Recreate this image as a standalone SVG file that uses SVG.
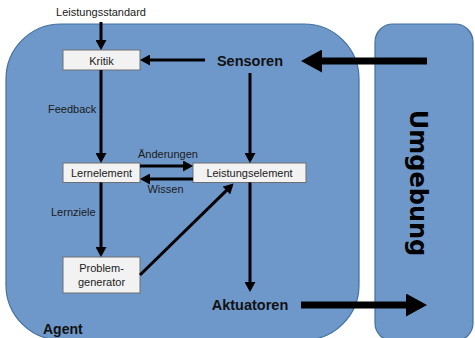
<svg xmlns="http://www.w3.org/2000/svg" width="475" height="338" viewBox="0 0 475 338">
<defs>
<style>
.bg{fill:#6f98ca;stroke:#42709f;stroke-width:1.2}
.box{fill:#f2f2f2;stroke:#6e6e6e;stroke-width:1}
.t{font-family:"Liberation Sans",Arial,sans-serif;font-size:11px;fill:#1a1a1a}
.c{text-anchor:middle}
.b{font-family:"Liberation Sans",Arial,sans-serif;font-weight:bold;font-size:14.5px;fill:#111;text-anchor:middle}
.ln{stroke:#000;stroke-width:3;fill:none;marker-end:url(#ah)}
.big{stroke:#000;stroke-width:7;fill:none;marker-end:url(#bh)}
</style>
<marker id="ah" markerUnits="userSpaceOnUse" markerWidth="10" markerHeight="11" refX="7" refY="5.5" orient="auto" viewBox="0 0 10 11">
<path d="M0,0 L10,5.5 L0,11 Z" fill="#000"/>
</marker>
<marker id="bh" markerUnits="userSpaceOnUse" markerWidth="21" markerHeight="23" refX="14" refY="11.5" orient="auto" viewBox="0 0 21 23">
<path d="M0,0 L21,11.5 L0,23 Z" fill="#000"/>
</marker>
</defs>

<g id="agent">
<rect class="bg" x="6" y="24" width="353" height="316" rx="55" ry="55"/>
<text x="43" y="334" style="font-family:'Liberation Sans',Arial,sans-serif;font-weight:bold;font-size:14px;fill:#111">Agent</text>
</g>

<g id="umgebung">
<rect class="bg" x="375" y="24" width="98" height="317" rx="18" ry="18"/>
<text transform="translate(410,183) rotate(90)" style="font-family:'DejaVu Sans',sans-serif;font-weight:bold;font-size:24px;fill:#000;text-anchor:middle">Umgebung</text>
</g>

<g id="leistungsstandard">
<text class="t c" x="101" y="16">Leistungsstandard</text>
</g>

<g id="kritik">
<rect class="box" x="63" y="50" width="77" height="20"/>
<text class="t c" x="101.5" y="64.5">Kritik</text>
</g>

<g id="sensoren">
<text class="b" x="250" y="66">Sensoren</text>
</g>

<g id="lernelement">
<rect class="box" x="63" y="163" width="77" height="19.5"/>
<text class="t c" x="101.5" y="176.5">Lernelement</text>
</g>

<g id="leistungselement">
<rect class="box" x="193" y="163" width="113" height="19.5"/>
<text class="t c" x="249.5" y="176.5">Leistungselement</text>
</g>

<g id="problemgenerator">
<rect class="box" x="63" y="257" width="77" height="36"/>
<text class="t c" x="101.5" y="271.5">Problem-</text>
<text class="t c" x="101.5" y="286">generator</text>
</g>

<g id="aktuatoren">
<text class="b" x="250" y="310">Aktuatoren</text>
</g>

<g id="connectors">
<line class="ln" x1="101" y1="22" x2="101" y2="47"/>
<line class="ln" x1="205" y1="60" x2="143" y2="60"/>
<line class="ln" x1="101" y1="70" x2="101" y2="160"/>
<line class="ln" x1="250" y1="73" x2="250" y2="160"/>
<line class="ln" x1="140" y1="166" x2="190" y2="166"/>
<line class="ln" x1="193" y1="179" x2="143" y2="179"/>
<line class="ln" x1="101" y1="182.5" x2="101" y2="254"/>
<line class="ln" x1="140" y1="275" x2="231.4" y2="185.6"/>
<line class="ln" x1="250" y1="182.5" x2="250" y2="289"/>
<line class="big" x1="427" y1="61" x2="308" y2="61"/>
<line class="big" x1="301" y1="305" x2="420" y2="305"/>
<text class="t" x="48" y="113">Feedback</text>
<text class="t c" x="168" y="158">Änderungen</text>
<text class="t c" x="165.5" y="192.5">Wissen</text>
<text class="t" x="51" y="216">Lernziele</text>
</g>
</svg>
